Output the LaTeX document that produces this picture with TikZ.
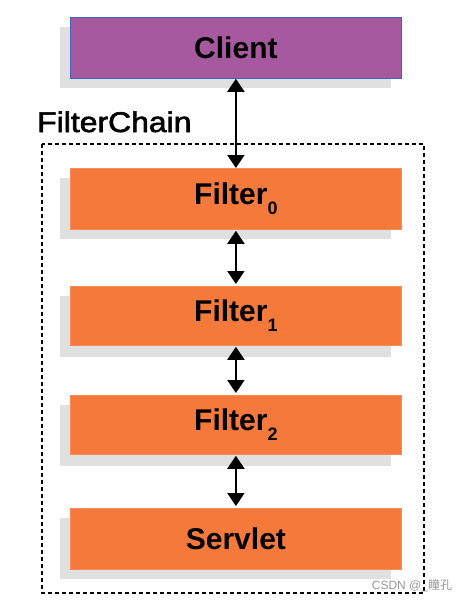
\documentclass[tikz,border=0pt]{standalone}
\usepackage{fontspec}
\setmainfont{Liberation Sans}
\newfontfamily\chainfont[FakeBold=2]{Liberation Sans}
\newfontfamily\cjkfont{Noto Sans CJK SC}
\usetikzlibrary{arrows.meta}
\definecolor{clientfill}{RGB}{167,89,160}
\definecolor{clientborder}{RGB}{70,100,190}
\definecolor{filterfill}{RGB}{245,121,59}
\definecolor{filterborder}{RGB}{250,140,90}
\definecolor{shadowgrey}{RGB}{224,224,224}
\tikzset{
  box/.style={minimum width=331pt, minimum height=61pt, inner sep=0pt, line width=0.8pt,
    font=\fontsize{30pt}{34pt}\selectfont\bfseries},
  clientbox/.style={box, fill=clientfill, draw=clientborder},
  filterbox/.style={box, fill=filterfill, draw=filterborder},
  link/.style={line width=2pt, {Triangle[width=17pt,length=13pt]}-{Triangle[width=17pt,length=13pt]}},
  chain/.style={draw, line width=1.4pt, dash pattern=on 4pt off 3pt},
}
\newcommand{\fsub}[1]{\raisebox{-10pt}{\fontsize{18pt}{20pt}\selectfont #1}}
\begin{document}
\begin{tikzpicture}[x=1pt,y=-1pt]
\useasboundingbox (0,0) rectangle (468,602);
% dashed chain frame
\draw[chain] (42,144) rectangle (424,593);
\node[anchor=base west, inner sep=0pt] (chainlabel) at (37,132)
  {\scalebox{1.12}[1]{\chainfont\fontsize{28.5pt}{32pt}\selectfont FilterChain}};
% shadows
\foreach \y in {17,168,286,395,508}{
  \fill[shadowgrey] (60,\y+10) rectangle (391,\y+71);
}
% boxes
\node[clientbox, anchor=north west] (client) at (70,17) {Client};
\node[filterbox, anchor=north west] (f0) at (70,168) {Filter\fsub{0}};
\node[filterbox, anchor=north west, minimum height=59pt] (f1) at (70,286) {Filter\fsub{1}};
\node[filterbox, anchor=north west, minimum height=59pt] (f2) at (70,395) {Filter\fsub{2}};
\node[filterbox, anchor=north west] (servlet) at (70,508) {Servlet};
% connectors
\draw[link] (client.south) -- (f0.north);
\draw[link, shorten <=1pt, shorten >=2pt] (f0.south) -- (f1.north);
\draw[link, shorten <=1pt, shorten >=2pt] (f1.south) -- (f2.north);
\draw[link, shorten <=1pt, shorten >=2pt] (f2.south) -- (servlet.north);
% watermark
\node[text=black!40, font=\fontsize{12pt}{14pt}\selectfont, inner sep=0pt] (wm) at (412,586) {CSDN @\_{\cjkfont 瞳孔}};
\end{tikzpicture}
\end{document}
